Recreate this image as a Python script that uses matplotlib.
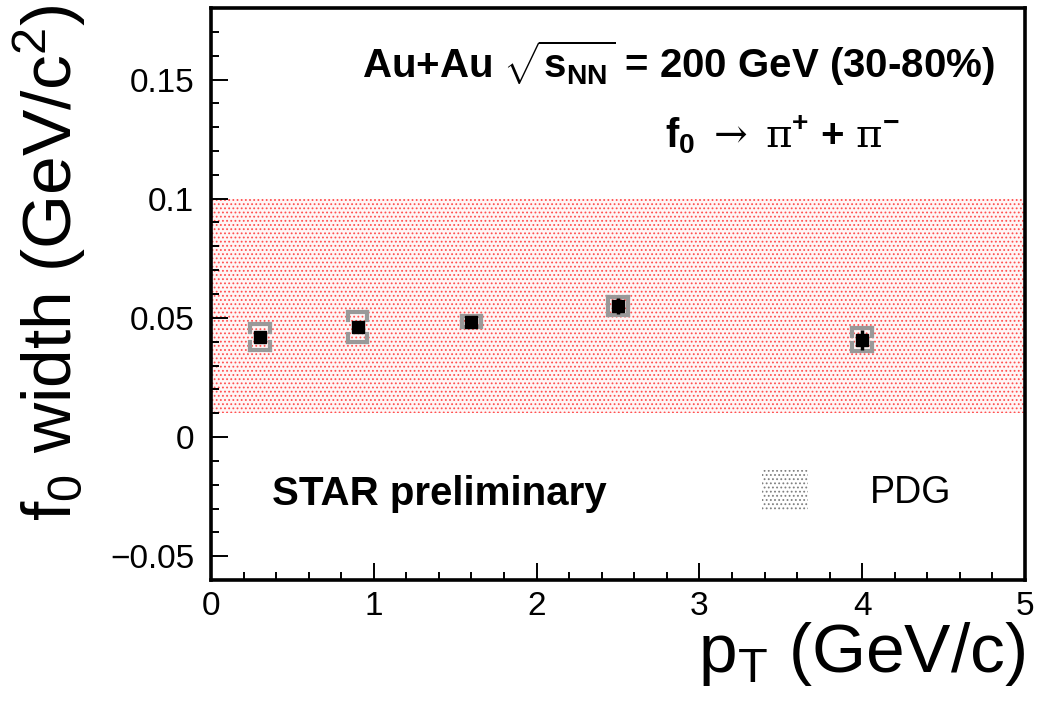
import matplotlib
matplotlib.use("Agg")
import matplotlib.pyplot as plt
from matplotlib.patches import Rectangle
from matplotlib.ticker import MultipleLocator, FixedLocator
import numpy as np

plt.rcParams['font.family'] = ['Liberation Sans', 'DejaVu Sans']
plt.rcParams['mathtext.fontset'] = 'custom'
plt.rcParams['mathtext.rm'] = 'Liberation Sans'
plt.rcParams['mathtext.it'] = 'Liberation Sans'
plt.rcParams['mathtext.bf'] = 'Liberation Sans:bold'
plt.rcParams['mathtext.sf'] = 'DejaVu Serif'
plt.rcParams['mathtext.default'] = 'regular'
plt.rcParams['hatch.linewidth'] = 0.8

# data
pt = [0.3, 0.9, 1.6, 2.5, 4.0]
width = [0.042, 0.046, 0.0484, 0.0549, 0.0408]
stat_err = [0.002, 0.002, 0.002, 0.0034, 0.0042]
sys_err = [0.0056, 0.0063, 0.0023, 0.0039, 0.0049]
pdg_low = 0.01
pdg_high = 0.10
xticks = [0, 1, 2, 3, 4, 5]
yticks = [-0.05, 0, 0.05, 0.1, 0.15]
yticklabels = ['\u22120.05', '0', '0.05', '0.1', '0.15']

W, H = 1038, 707
fig = plt.figure(figsize=(W / 100, H / 100), dpi=100)
ax = fig.add_axes([211 / W, 1 - 580 / H, (1025 - 211) / W, (580 - 8) / H])
ax.set_xlim(0, 5)
ax.set_ylim(-0.06, 0.18)

# PDG band
ax.fill_between([0, 5], pdg_low, pdg_high, facecolor='#fff6f6', edgecolor='#ff5050',
                hatch='....', linewidth=0, zorder=1)

# systematic brackets
bx = 0.06
corner = 0.0034
for x, y, s in zip(pt, width, sys_err):
    c = min(corner, s)
    kw = dict(color='#999999', lw=3, zorder=3, solid_capstyle='projecting')
    ax.plot([x - bx, x + bx], [y + s, y + s], **kw)
    ax.plot([x - bx, x + bx], [y - s, y - s], **kw)
    for xx in (x - bx, x + bx):
        ax.plot([xx, xx], [y + s, y + s - c], **kw)
        ax.plot([xx, xx], [y - s, y - s + c], **kw)

ax.errorbar(pt, width, yerr=stat_err, fmt='s', color='black', ms=8.5, lw=2.5,
            capsize=0, zorder=5)

# axes styling
for sp in ax.spines.values():
    sp.set_linewidth(2.6)
ax.xaxis.set_major_locator(FixedLocator(xticks))
ax.xaxis.set_minor_locator(MultipleLocator(0.2))
ax.yaxis.set_major_locator(FixedLocator(yticks))
ax.yaxis.set_minor_locator(MultipleLocator(0.01))
ax.set_yticklabels(yticklabels)
ax.tick_params(which='both', direction='in', top=False, right=False, width=1.4,
               labelsize=24)
ax.tick_params(which='major', length=12)
ax.tick_params(which='minor', length=6)
ax.tick_params(axis='x', pad=8)
ax.tick_params(axis='y', pad=12)

# labels
fig.text(1025 / W, 1 - 672 / H, r'p$_{T}$ (GeV/c)', fontsize=50, ha='right', va='baseline')
fig.text(72 / W, 1 - 5 / H, r'f$_{0}$ width (GeV/c$^{2}$)', fontsize=50, rotation=90,
         ha='right', va='baseline', rotation_mode='anchor')

# annotations
fig.text(995 / W, 1 - 78 / H, r'Au+Au $\sqrt{\mathbf{s_{NN}}}$ = 200 GeV (30-80%)',
         fontsize=29, fontweight='bold', ha='right', va='baseline')
fig.text(665 / W, 1 - 147 / H,
         r'f$_{0}$ $\mathsf{\rightarrow}$ $\mathsf{\pi}^{+}$ + $\mathsf{\pi}^{-}$',
         fontsize=29, fontweight='bold', ha='left', va='baseline')
fig.text(272 / W, 1 - 505 / H, 'STAR preliminary', fontsize=29, fontweight='bold',
         ha='left', va='baseline')
fig.text(870 / W, 1 - 503 / H, 'PDG', fontsize=27, ha='left', va='baseline')
fig.patches.append(Rectangle((762 / W, 1 - 510 / H), 46 / W, 40 / H, transform=fig.transFigure,
                             facecolor='white', edgecolor='#808080', hatch='....', lw=0))

fig.savefig('out.png', dpi=100)
